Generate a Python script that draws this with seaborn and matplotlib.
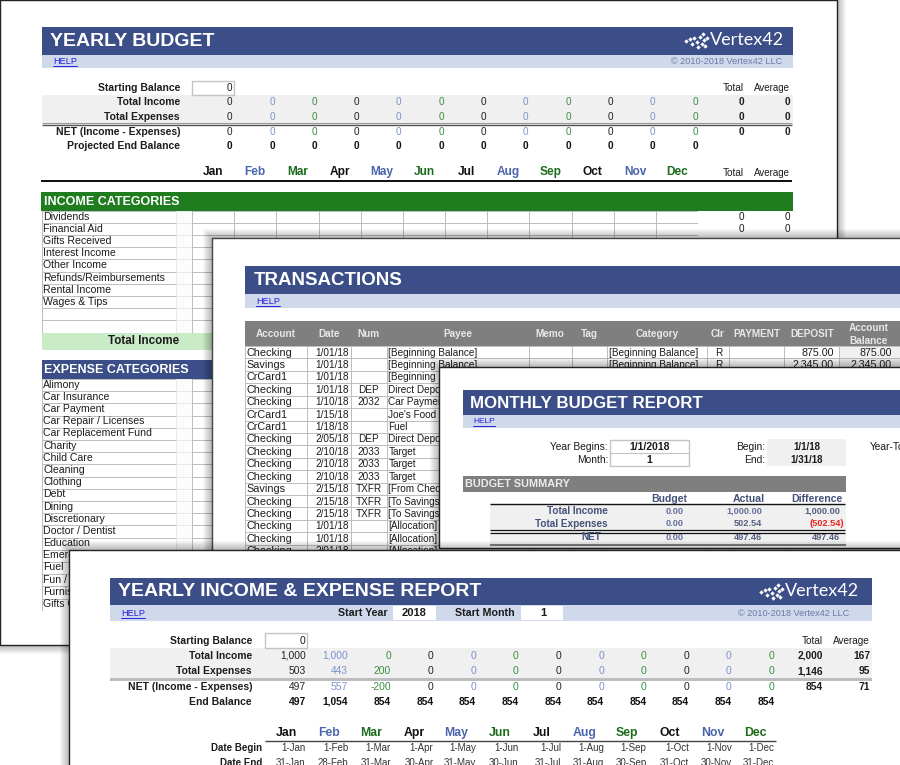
import numpy as np
import matplotlib
matplotlib.use("Agg")
import matplotlib.pyplot as plt
from matplotlib.colors import ListedColormap
from matplotlib.patches import Rectangle
import seaborn as sns

# ---------- data ----------
months = ["Jan", "Feb", "Mar", "Apr", "May", "Jun", "Jul", "Aug", "Sep", "Oct", "Nov", "Dec"]
budget_labels = ["Total Income", "Total Expenses", "NET (Income - Expenses)", "Projected End Balance"]
income_categories = ["Dividends", "Financial Aid", "Gifts Received", "Interest Income", "Other Income",
                     "Refunds/Reimbursements", "Rental Income", "Wages & Tips", "", ""]
expense_categories = ["Alimony", "Car Insurance", "Car Payment", "Car Repair / Licenses", "Car Replacement Fund",
                      "Charity", "Child Care", "Cleaning", "Clothing", "Debt", "Dining", "Discretionary",
                      "Doctor / Dentist", "Education", "Emergency Fund", "Fuel", "Fun / Entertainment",
                      "Furnishings", "Gifts Given"]
tx_headers = ["Account", "Date", "Num", "Payee", "Memo", "Tag", "Category", "Clr", "PAYMENT", "DEPOSIT"]
tx_account = ["Checking", "Savings", "CrCard1", "Checking", "Checking", "CrCard1", "CrCard1", "Checking", "Checking",
              "Checking", "Checking", "Savings", "Checking", "Checking", "Checking", "Checking", "Checking"]
tx_date = ["1/01/18", "1/01/18", "1/01/18", "1/01/18", "1/10/18", "1/15/18", "1/18/18", "2/05/18", "2/10/18",
           "2/10/18", "2/10/18", "2/15/18", "2/15/18", "2/15/18", "1/01/18", "1/01/18", "2/01/18"]
tx_num = ["", "", "", "DEP", "2032", "", "", "DEP", "2033", "2033", "2033", "TXFR", "TXFR", "TXFR", "", "", ""]
tx_payee = ["[Beginning Balance]", "[Beginning Balance]", "[Beginning Balance]", "Direct Deposit", "Car Payment",
            "Joe's Food", "Fuel", "Direct Deposit", "Target", "Target", "Target", "[From Checking]",
            "[To Savings]", "[To Savings]", "[Allocation]", "[Allocation]", "[Allocation]"]
tx_category = ["[Beginning Balance]", "[Beginning Balance]"]
tx_clr = ["R", "R"]
tx_deposit = ["875.00", "2,345.00"]
tx_balance = ["875.00", "2,345.00"]
report_income = ["1,000", "1,000", "0", "0", "0", "0", "0", "0", "0", "0", "0", "0"]
report_expense = ["503", "443", "200", "0", "0", "0", "0", "0", "0", "0", "0", "0"]
report_net = ["497", "557", "-200", "0", "0", "0", "0", "0", "0", "0", "0", "0"]
report_end = ["497", "1,054", "854", "854", "854", "854", "854", "854", "854", "854", "854", "854"]
report_totals = [["2,000", "167"], ["1,146", "95"], ["854", "71"]]
date_begin = ["1-Jan", "1-Feb", "1-Mar", "1-Apr", "1-May", "1-Jun", "1-Jul", "1-Aug", "1-Sep", "1-Oct", "1-Nov", "1-Dec"]
date_end = ["31-Jan", "28-Feb", "31-Mar", "30-Apr", "31-May", "30-Jun", "31-Jul", "31-Aug", "30-Sep", "31-Oct", "30-Nov", "31-Dec"]
summary_rows = ["Total Income", "Total Expenses", "NET"]
summary_budget = ["0.00", "0.00", "0.00"]
summary_actual = ["1,000.00", "502.54", "497.46"]
summary_diff = ["1,000.00", "(502.54)", "497.46"]

# ---------- style ----------
sns.set_theme(style="white")
plt.rcParams["font.family"] = ["Liberation Sans", "DejaVu Sans"]
W, H = 900, 765
NAVY, BAND, GREY, PALE = "#3B4E87", "#D0D8EB", "#7F7F7F", "#F0F0F0"
GREEN, MINT, INK, RULE = "#1F7D20", "#C9EBC5", "#1C1C1C", "#BEBEBE"
MONTH_COL = ["#111111", "#4A65AC", "#1B6B1B"]
VALUE_COL = ["#222222", "#7C93CC", "#3E8E3E"]
fig = plt.figure(figsize=(W / 100, H / 100), dpi=100, facecolor="white")


def layer(z):
    ax = fig.add_axes([0, 0, 1, 1], zorder=z)
    ax.set_xlim(0, W)
    ax.set_ylim(H, 0)
    ax.axis("off")
    ax.patch.set_alpha(0)
    return ax


def box(ax, x0, y0, x1, y1, color, **kw):
    ax.add_patch(Rectangle((x0, y0), x1 - x0, y1 - y0, facecolor=color, edgecolor="none", clip_on=False, **kw))


def sheet(z, x0, y0, x1, y1, edge):
    """A white page with a soft shadow; returns background and text layers."""
    bg = layer(z)
    for i in range(9, 0, -1):
        box(bg, x0 - i, y0 - i, x1 + i, y1 + i, "black", alpha=0.03)
    box(bg, x0, y0, x1, y1, "white")
    bg.add_patch(Rectangle((x0, y0), x1 - x0, y1 - y0, facecolor="none", edgecolor=edge, linewidth=1.0))
    return bg, layer(z + 2)


def grid(z, edges, y0, rows, rh, color="white", line=RULE):
    """Ruled cells drawn with one seaborn heatmap per column."""
    for a, b in zip(edges[:-1], edges[1:]):
        h = rows * rh
        ax = fig.add_axes([a / W, 1 - (y0 + h) / H, (b - a) / W, h / H], zorder=z)
        sns.heatmap(np.zeros((rows, 1)), ax=ax, cmap=ListedColormap([color]), cbar=False, vmin=0, vmax=1,
                    linewidths=0.7, linecolor=line, xticklabels=False, yticklabels=False)


def txt(ax, x, y, s, size=8, ha="left", weight="normal", color=INK):
    ax.text(x, y, s, fontsize=size, ha=ha, va="center", fontweight=weight, color=color)


def help_link(ax, x, y, size=6.6):
    t = ax.text(x, y, "HELP", fontsize=size, color="#2222DD", va="center", ha="left")
    w = t.get_window_extent(fig.canvas.get_renderer()).width
    ax.plot([x, x + w], [y + 4.5, y + 4.5], color="#2222DD", lw=0.7)


def logo(ax, x, y):
    dots_x = [0, 4, 7, 9, 12, 13, 16, 18, 19, 20, 21, 23]
    dots_y = [0, -2, 3, -3, 1, 6, -4, 3, -7, -1, 5, -3]
    ax.scatter([x + d * 0.9 for d in dots_x], [y + d for d in dots_y], s=5, marker="D", color="white", linewidths=0)
    ax.text(x + 24, y - 1, "Vertex42", fontsize=13, color="white", family="Lato", va="center", ha="left")


def hrule(ax, x0, x1, y, lw=1.0, color="#555555"):
    ax.plot([x0, x1], [y, y], color=color, lw=lw, solid_capstyle="butt")


LBL = 7.5
# ---------- sheet 1: yearly budget ----------
bg, ax = sheet(10, 0, 0, 837, 645, "#222222")
box(bg, 42, 27, 793, 55, NAVY)
box(bg, 42, 55, 793, 68, BAND)
txt(ax, 50, 41, "YEARLY BUDGET", 14, weight="bold", color="white")
help_link(ax, 53, 61.5)
txt(ax, 782, 61.5, "© 2010-2018 Vertex42 LLC", 6.6, ha="right", color="#6A7BA6")
logo(ax, 686, 41)
box(bg, 42, 95, 793, 122, PALE)
hrule(bg, 42, 792, 122.5, 1.0, "#9A9A9A")
hrule(bg, 42, 792, 125, 1.0, "#555555")
bg.add_patch(Rectangle((192, 80.5), 42, 14.5, facecolor="white", edgecolor="#C4C4C4", lw=1))
txt(ax, 180, 88, "Starting Balance", LBL, ha="right", weight="bold")
txt(ax, 232, 87.5, "0", 7.2, ha="right")
txt(ax, 744, 87.5, "Total", 7.2, ha="right")
txt(ax, 790, 87.5, "Average", 7, ha="right")
for k, (label, y) in enumerate(zip(budget_labels, [102, 117, 131.5, 146])):
    txt(ax, 180, y, label, LBL, ha="right", weight="bold")
    for i in range(12):
        col = "#111111" if k == 3 else VALUE_COL[i % 3]
        txt(ax, 232.5 + 42.3 * i, y, "0", 7.2, ha="right", color=col, weight="bold" if k == 3 else "normal")
    if k < 3:
        txt(ax, 744, y, "0", 7.2, ha="right", weight="bold")
        txt(ax, 790, y, "0", 7.2, ha="right", weight="bold")
for i, m in enumerate(months):
    txt(ax, 213 + 42.2 * i, 172, m, 8.6, ha="center", weight="bold", color=MONTH_COL[i % 3])
txt(ax, 744, 173, "Total", 7.2, ha="right")
txt(ax, 790, 173, "Average", 7, ha="right")
box(bg, 41, 179.5, 792, 182, "#111111")

box(bg, 41, 192, 793, 210.5, GREEN)
txt(ax, 44, 201.5, "INCOME CATEGORIES", 9, weight="bold", color="white")
month_edges = [192 + 42.17 * i for i in range(13)]
grid(11, [42, 176], 210.5, 10, 12.2)
grid(11, [176, 192], 210.5, 10, 12.2, color="#FCFCFC", line="#E8E8E8")
grid(11, month_edges, 210.5, 10, 12.2)
for i, c in enumerate(income_categories):
    txt(ax, 43, 216.5 + 12.2 * i, c, 7.6)
for i in range(2):
    y = 216.5 + 12.2 * i
    txt(ax, 744, y, "0", 7.2, ha="right")
    txt(ax, 790, y, "0", 7.2, ha="right")
box(bg, 42, 332.5, 793, 350, MINT)
txt(ax, 144, 341, "Total Income", 8.4, ha="center", weight="bold")
box(bg, 42, 360, 793, 379, NAVY)
txt(ax, 44, 370, "EXPENSE CATEGORIES", 9, weight="bold", color="white")
grid(11, [42, 176], 379, 19, 12.2)
grid(11, [176, 192], 379, 19, 12.2, color="#FCFCFC", line="#E8E8E8")
grid(11, month_edges[:2], 379, 19, 12.2)
for i, c in enumerate(expense_categories):
    txt(ax, 43, 384.5 + 12.2 * i, c, 7.6)

# ---------- sheet 2: transactions ----------
bg, ax = sheet(20, 212, 238, 960, 600, "#444444")
box(bg, 245, 266, 905, 294, NAVY)
box(bg, 245, 294, 905, 308, BAND)
txt(ax, 254, 280.5, "TRANSACTIONS", 13.5, weight="bold", color="white")
help_link(ax, 256, 301.5)
box(bg, 245, 321, 905, 346, GREY)
tx_edges = [245, 306.7, 350.7, 386.7, 528.7, 571.7, 607, 706.7, 729.3, 784.3, 839.3]
for a, b, h in zip(tx_edges[:-1], tx_edges[1:], tx_headers):
    txt(ax, (a + b) / 2, 334, h, 7.2, ha="center", weight="bold", color="#E8E8E8")
txt(ax, 869, 327.5, "Account", 7.2, ha="center", weight="bold", color="#E8E8E8")
txt(ax, 869, 340.5, "Balance", 7.2, ha="center", weight="bold", color="#E8E8E8")
RH = 12.42
grid(21, tx_edges, 346, 17, RH)
grid(21, [839.3, 905], 346, 17, RH, color=PALE)
for i in range(17):
    y = 352.5 + RH * i
    txt(ax, 246.5, y, tx_account[i], 7.8)
    txt(ax, 348.5, y, tx_date[i], 7.2, ha="right")
    txt(ax, 368.7, y, tx_num[i], 7.2, ha="center")
    txt(ax, 388.5, y, tx_payee[i], 7.2)
for i in range(2):
    y = 352.5 + RH * i
    txt(ax, 609, y, tx_category[i], 7.2)
    txt(ax, 718.5, y, tx_clr[i], 7.2, ha="center")
    txt(ax, 834, y, tx_deposit[i], 7.7, ha="right")
    txt(ax, 892, y, tx_balance[i], 7.7, ha="right")

# ---------- sheet 3: monthly budget report ----------
bg, ax = sheet(30, 439, 367, 960, 548, "#222222")
box(bg, 463, 390, 905, 415, NAVY)
box(bg, 463, 415, 905, 428, BAND)
txt(ax, 470, 403, "MONTHLY BUDGET REPORT", 12.2, weight="bold", color="white")
help_link(ax, 473, 421.5, 6)
txt(ax, 608, 447, "Year Begins:", 7.4, ha="right")
txt(ax, 608, 460, "Month:", 7.4, ha="right")
bg.add_patch(Rectangle((610, 440), 79, 26, facecolor="white", edgecolor="#C4C4C4", lw=1))
hrule(bg, 610, 689, 453, 0.8, "#C4C4C4")
txt(ax, 649.5, 446.5, "1/1/2018", 7.6, ha="center", weight="bold")
txt(ax, 649.5, 460, "1", 7.6, ha="center", weight="bold")
txt(ax, 765, 447, "Begin:", 7.4, ha="right")
txt(ax, 765, 460, "End:", 7.4, ha="right")
box(bg, 767, 439, 846, 466, PALE)
txt(ax, 807, 447, "1/1/18", 7, ha="center", weight="bold")
txt(ax, 807, 460, "1/31/18", 7, ha="center", weight="bold")
txt(ax, 870, 447, "Year-To-Date", 7.4)
box(bg, 463, 476, 846, 492, GREY)
txt(ax, 465, 484, "BUDGET SUMMARY", 7.8, weight="bold", color="#EDEDED")
SLATE = "#44527A"
txt(ax, 687, 499, "Budget", 7.6, ha="right", weight="bold", color=SLATE)
txt(ax, 765, 499, "Actual", 7.6, ha="right", weight="bold", color=SLATE)
txt(ax, 843, 499, "Difference", 7.6, ha="right", weight="bold", color=SLATE)
box(bg, 490, 504, 846, 544, PALE)
hrule(bg, 490, 845, 504.3, 1.0, "#111111")
hrule(bg, 490, 845, 530, 0.9, "#111111")
hrule(bg, 490, 845, 532.5, 0.9, "#111111")
box(bg, 490, 544, 846, 546, "#808080")
for i, (lab, y) in enumerate(zip(summary_rows, [511, 524, 537.5])):
    txt(ax, 608 if i < 2 else 601, y, lab, 7.2, ha="right", weight="bold", color=SLATE)
    txt(ax, 684, y, summary_budget[i], 6.6, ha="right", weight="bold", color="#667099")
    txt(ax, 762, y, summary_actual[i], 6.6, ha="right", weight="bold", color="#667099" if i == 0 else "#55607F")
    red = summary_diff[i].startswith("(")
    txt(ax, 844 if red else 840.5, y, summary_diff[i], 6.6, ha="right", weight="bold",
        color="#EE2222" if red else "#55607F")

# ---------- sheet 4: yearly income & expense report ----------
bg, ax = sheet(40, 69, 550, 960, 800, "#222222")
box(bg, 110, 578, 872, 605, NAVY)
box(bg, 110, 605, 872, 621, BAND)
txt(ax, 118, 591.5, "YEARLY INCOME & EXPENSE REPORT", 14, weight="bold", color="white")
help_link(ax, 121, 613)
txt(ax, 388, 613.5, "Start Year", 7.7, ha="right", weight="bold")
box(bg, 393, 606, 436, 620, "white")
txt(ax, 414.5, 613.5, "2018", 8, ha="center", weight="bold")
txt(ax, 515, 613.5, "Start Month", 7.7, ha="right", weight="bold")
box(bg, 521, 606, 563, 620, "white")
txt(ax, 543, 613.5, "1", 8, ha="center", weight="bold")
txt(ax, 849, 613.5, "© 2010-2018 Vertex42 LLC", 6.6, ha="right", color="#6A7BA6")
logo(ax, 761, 592)
box(bg, 110, 648, 872, 678, PALE)
box(bg, 110, 678, 872, 681, "#BDBDBD")
bg.add_patch(Rectangle((265, 633), 42, 15, facecolor="white", edgecolor="#C4C4C4", lw=1))
txt(ax, 252, 640.5, "Starting Balance", LBL, ha="right", weight="bold")
txt(ax, 305.5, 640.5, "0", 7.4, ha="right")
txt(ax, 823, 640.5, "Total", 7.2, ha="right")
txt(ax, 870, 640.5, "Average", 7.2, ha="right")
ys = [656, 671.5, 686.5, 702]
labels = ["Total Income", "Total Expenses", "NET (Income - Expenses)", "End Balance"]
series = [report_income, report_expense, report_net, report_end]
for k, (lab, y, vals) in enumerate(zip(labels, ys, series)):
    txt(ax, 252, y, lab, LBL, ha="right", weight="bold")
    for i, v in enumerate(vals):
        col = "#111111" if k == 3 else VALUE_COL[i % 3]
        txt(ax, 305.7 + 42.6 * i, y, v, 7.4, ha="right", color=col, weight="bold" if k == 3 else "normal")
    if k < 3:
        txt(ax, 823, y, report_totals[k][0], 7.4, ha="right", weight="bold")
        txt(ax, 870, y, report_totals[k][1], 7.4, ha="right", weight="bold")
for i, m in enumerate(months):
    txt(ax, 286 + 42.65 * i, 733, m, 8.8, ha="center", weight="bold", color=MONTH_COL[i % 3])
hrule(bg, 265, 776, 740.5, 1.0, "#444444")
txt(ax, 262, 748, "Date Begin", 7, ha="right", weight="bold")
txt(ax, 262, 763, "Date End", 7, ha="right", weight="bold")
for i in range(12):
    txt(ax, 305.7 + 42.6 * i, 748, date_begin[i], 7, ha="right", color="#333333")
    txt(ax, 305.7 + 42.6 * i, 763, date_end[i], 7, ha="right", color="#333333")

fig.savefig("out.png", dpi=100, facecolor="white")
